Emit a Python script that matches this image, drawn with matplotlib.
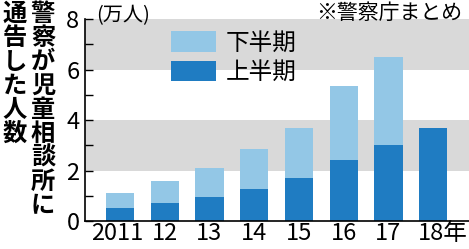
import matplotlib.pyplot as plt
from matplotlib.patches import Patch
from matplotlib.transforms import ScaledTranslation

plt.rcParams['font.family'] = ['Noto Sans CJK JP', 'DejaVu Sans']

# データ(万人)
years = ["2011", "12", "13", "14", "15", "16", "17", "18年"]
first_half = [0.50, 0.70, 0.96, 1.25, 1.69, 2.40, 3.00, 3.67]
second_half = [0.62, 0.88, 1.15, 1.59, 1.98, 2.95, 3.50, 0.0]
yticks = [0, 2, 4, 6, 8]
yminor = [1, 3, 5, 7]

# 色
col_first = "#1f7cc2"
col_second = "#93c7e6"
col_band = "#d9d9d9"

fig = plt.figure(figsize=(4.69, 2.49), dpi=100)
ax = fig.add_axes([85 / 469, 1 - 221 / 249, 384 / 469, 202 / 249])

# 背景の帯
ax.axhspan(2, 4, color=col_band, zorder=0, lw=0)
ax.axhspan(6, 8, color=col_band, zorder=0, lw=0)

x = list(range(len(years)))
ax.bar(x, first_half, width=0.63, color=col_first, zorder=2)
ax.bar(x, second_half, width=0.63, bottom=first_half, color=col_second, zorder=2)

ax.set_xlim(-0.78, 7.8)
ax.set_ylim(0, 8)

for s in ["top", "right"]:
    ax.spines[s].set_visible(False)
ax.spines["left"].set_linewidth(1.2)
ax.spines["bottom"].set_linewidth(1.2)

ax.set_yticks(yticks)
ax.set_yticks(yminor, minor=True)
ax.tick_params(axis="y", which="both", direction="in", length=6, width=1,
               labelsize=17, pad=4)
ax.set_xticks(x)
ax.set_xticklabels(years)
ax.tick_params(axis="x", length=0, labelsize=17, pad=1)
labels = ax.get_xticklabels()
labels[0].set_transform(labels[0].get_transform() + ScaledTranslation(-3 / 100, 0, fig.dpi_scale_trans))
labels[-1].set_transform(labels[-1].get_transform() + ScaledTranslation(10 / 100, 0, fig.dpi_scale_trans))

# 凡例
handles = [Patch(facecolor=col_second, lw=0), Patch(facecolor=col_first, lw=0)]
ax.legend(handles, ["下半期", "上半期"], loc="upper left", bbox_to_anchor=(0.2, 0.985),
          frameon=False, fontsize=17, handlelength=1.9, handleheight=0.95,
          handletextpad=0.4, labelspacing=0.25, borderaxespad=0)

# 単位・出典
fig.text(96 / 469, 1 - 16 / 249, "(万人)", fontsize=14.5, va="center", ha="left")
fig.text(462 / 469, 1 - 13 / 249, "※警察庁まとめ", fontsize=15, va="center", ha="right")

# 縦書きタイトル
title_r = "警察が児童相談所に"
title_l = "通告した人数"
fig.text(43 / 469, 1 - 2 / 249, "\n".join(title_r), fontsize=17.5, fontweight="bold",
         va="top", ha="center", linespacing=1.0)
fig.text(15 / 469, 1 - 2 / 249, "\n".join(title_l), fontsize=17.5, fontweight="bold",
         va="top", ha="center", linespacing=1.0)

fig.savefig("out.png", dpi=100)
